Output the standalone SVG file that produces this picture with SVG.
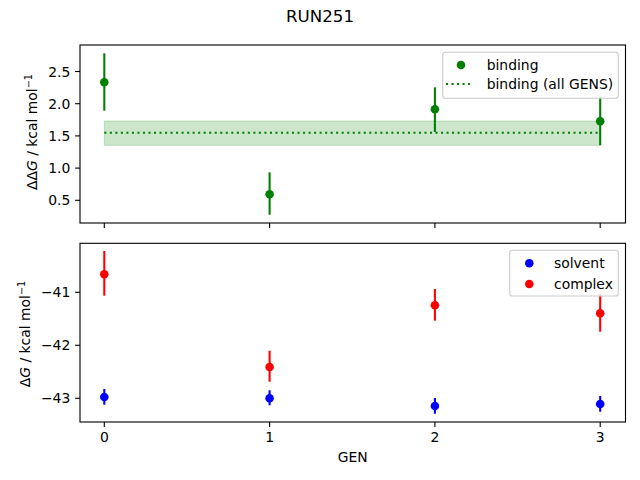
<svg xmlns="http://www.w3.org/2000/svg" width="640" height="480" viewBox="0 0 640 480">
<style>
text{font-family:"DejaVu Sans","Liberation Sans",sans-serif;font-size:13.9px;fill:#000}
.title{font-size:16.67px}
.spine{fill:none;stroke:#000;stroke-width:1.11}
.tick{stroke:#000;stroke-width:1.11}
.eg{stroke:#008000;stroke-width:2.08}
.eb{stroke:#0000ff;stroke-width:2.08}
.er{stroke:#ff0000;stroke-width:2.08}
.mg{fill:#008000}
.mb{fill:#0000ff}
.mr{fill:#ff0000}
.dot{stroke:#008000;stroke-width:2.08;stroke-dasharray:2.08 3.44;fill:none}
.leg{fill:#fff;fill-opacity:0.8;stroke:#cccccc;stroke-width:1.11}
.yt{text-anchor:end}
.xt{text-anchor:middle}
</style>
<rect width="640" height="480" fill="#fff"/>
<text class="title" x="320" y="21.7" text-anchor="middle">RUN251</text>

<g id="top-axes">
  <rect x="80" y="45" width="545.5" height="178" fill="#fff"/>
  <g id="band">
    <rect x="104.3" y="121" width="495.9" height="24.3" fill="#008000" fill-opacity="0.2" stroke="#008000" stroke-opacity="0.2" stroke-width="1"/>
    <line class="dot" x1="104.3" y1="132.7" x2="600.2" y2="132.7"/>
  </g>
  <g id="binding-points">
    <line class="eg" x1="104.3" y1="53.3" x2="104.3" y2="110.7"/>
    <line class="eg" x1="269.6" y1="172.3" x2="269.6" y2="214.7"/>
    <line class="eg" x1="434.9" y1="87.3" x2="434.9" y2="132"/>
    <line class="eg" x1="600.2" y1="96.7" x2="600.2" y2="145.3"/>
    <circle class="mg" cx="104.3" cy="82.3" r="4.3"/>
    <circle class="mg" cx="269.6" cy="194.3" r="4.3"/>
    <circle class="mg" cx="434.9" cy="109.3" r="4.3"/>
    <circle class="mg" cx="600.2" cy="121.3" r="4.3"/>
  </g>
  <rect class="spine" x="80" y="45" width="545.5" height="178"/>
  <g id="top-yticks">
    <line class="tick" x1="75.1" y1="200.3" x2="80" y2="200.3"/>
    <line class="tick" x1="75.1" y1="168.1" x2="80" y2="168.1"/>
    <line class="tick" x1="75.1" y1="135.9" x2="80" y2="135.9"/>
    <line class="tick" x1="75.1" y1="103.7" x2="80" y2="103.7"/>
    <line class="tick" x1="75.1" y1="71.5" x2="80" y2="71.5"/>
    <text class="yt" x="70.3" y="205.3">0.5</text>
    <text class="yt" x="70.3" y="173.1">1.0</text>
    <text class="yt" x="70.3" y="140.9">1.5</text>
    <text class="yt" x="70.3" y="108.7">2.0</text>
    <text class="yt" x="70.3" y="76.5">2.5</text>
  </g>
  <g id="top-xticks">
    <line class="tick" x1="104.3" y1="223" x2="104.3" y2="227.9"/>
    <line class="tick" x1="269.6" y1="223" x2="269.6" y2="227.9"/>
    <line class="tick" x1="434.9" y1="223" x2="434.9" y2="227.9"/>
    <line class="tick" x1="600.2" y1="223" x2="600.2" y2="227.9"/>
  </g>
  <text transform="translate(37,132) rotate(-90)" text-anchor="middle">ΔΔ<tspan font-style="italic">G</tspan> / kcal mol<tspan font-size="9.7" dy="-5.5">−1</tspan></text>
  <g id="top-legend">
    <rect class="leg" x="442.7" y="52.3" width="175.6" height="46" rx="2.8"/>
    <circle class="mg" cx="461" cy="65" r="4.3"/>
    <text x="486.7" y="69.7">binding</text>
    <line class="dot" x1="446" y1="84" x2="473.3" y2="84"/>
    <text x="486.7" y="89">binding (all GENS)</text>
  </g>
</g>

<g id="bottom-axes">
  <rect x="80" y="243.3" width="545.5" height="178.7" fill="#fff"/>
  <g id="complex-points">
    <line class="er" x1="104.3" y1="251" x2="104.3" y2="295.7"/>
    <line class="er" x1="269.6" y1="350.7" x2="269.6" y2="381.7"/>
    <line class="er" x1="434.9" y1="289" x2="434.9" y2="320.7"/>
    <line class="er" x1="600.2" y1="294" x2="600.2" y2="331.7"/>
    <circle class="mr" cx="104.3" cy="274.3" r="4.3"/>
    <circle class="mr" cx="269.6" cy="367" r="4.3"/>
    <circle class="mr" cx="434.9" cy="305.3" r="4.3"/>
    <circle class="mr" cx="600.2" cy="313.3" r="4.3"/>
  </g>
  <g id="solvent-points">
    <line class="eb" x1="104.3" y1="389" x2="104.3" y2="404.7"/>
    <line class="eb" x1="269.6" y1="390.3" x2="269.6" y2="405.3"/>
    <line class="eb" x1="434.9" y1="398" x2="434.9" y2="413.7"/>
    <line class="eb" x1="600.2" y1="396" x2="600.2" y2="411.7"/>
    <circle class="mb" cx="104.3" cy="397" r="4.3"/>
    <circle class="mb" cx="269.6" cy="398.3" r="4.3"/>
    <circle class="mb" cx="434.9" cy="406" r="4.3"/>
    <circle class="mb" cx="600.2" cy="404" r="4.3"/>
  </g>
  <rect class="spine" x="80" y="243.3" width="545.5" height="178.7"/>
  <g id="bottom-yticks">
    <line class="tick" x1="75.1" y1="292.3" x2="80" y2="292.3"/>
    <line class="tick" x1="75.1" y1="345.3" x2="80" y2="345.3"/>
    <line class="tick" x1="75.1" y1="398.3" x2="80" y2="398.3"/>
    <text class="yt" x="70.3" y="297.3">−41</text>
    <text class="yt" x="70.3" y="350.3">−42</text>
    <text class="yt" x="70.3" y="403.3">−43</text>
  </g>
  <g id="bottom-xticks">
    <line class="tick" x1="104.3" y1="422" x2="104.3" y2="426.9"/>
    <line class="tick" x1="269.6" y1="422" x2="269.6" y2="426.9"/>
    <line class="tick" x1="434.9" y1="422" x2="434.9" y2="426.9"/>
    <line class="tick" x1="600.2" y1="422" x2="600.2" y2="426.9"/>
    <text class="xt" x="104.3" y="441.7">0</text>
    <text class="xt" x="269.6" y="441.7">1</text>
    <text class="xt" x="434.9" y="441.7">2</text>
    <text class="xt" x="600.2" y="441.7">3</text>
  </g>
  <text x="352.8" y="461.7" text-anchor="middle">GEN</text>
  <text transform="translate(30,334) rotate(-90)" text-anchor="middle">Δ<tspan font-style="italic">G</tspan> / kcal mol<tspan font-size="9.7" dy="-5.5">−1</tspan></text>
  <g id="bottom-legend">
    <rect class="leg" x="509.7" y="250.3" width="108.6" height="45.7" rx="2.8"/>
    <circle class="mb" cx="529.3" cy="263.3" r="4.3"/>
    <text x="554" y="267.7">solvent</text>
    <circle class="mr" cx="529.3" cy="284" r="4.3"/>
    <text x="554" y="288.5">complex</text>
  </g>
</g>
</svg>
